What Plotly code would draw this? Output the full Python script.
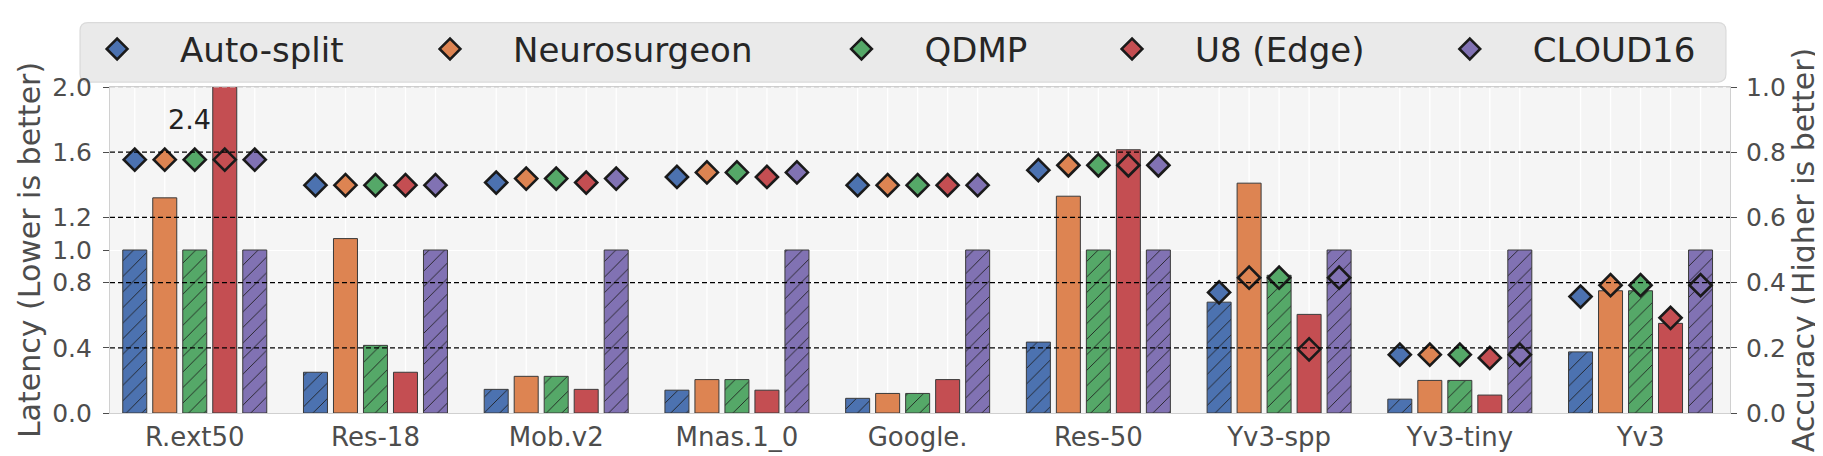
"""
Latency (bars) and accuracy (diamonds) per DNN model for five split methods.
"""

import plotly.graph_objects as go

models = ["R.ext50", "Res-18", "Mob.v2", "Mnas.1_0", "Google.",
          "Res-50", "Yv3-spp", "Yv3-tiny", "Yv3"]
methods = ["Auto-split", "Neurosurgeon", "QDMP", "U8 (Edge)", "CLOUD16"]

# latency, normalised (left axis)
auto_lat = [1.0, 0.25, 0.145, 0.14, 0.09, 0.435, 0.68, 0.085, 0.375]
neuro_lat = [1.32, 1.07, 0.225, 0.205, 0.12, 1.33, 1.41, 0.20, 0.75]
qdmp_lat = [1.0, 0.415, 0.225, 0.205, 0.12, 1.0, 0.845, 0.20, 0.75]
u8_lat = [2.4, 0.25, 0.145, 0.14, 0.205, 1.615, 0.605, 0.11, 0.55]
cloud_lat = [1.0, 1.0, 1.0, 1.0, 1.0, 1.0, 1.0, 1.0, 1.0]

# accuracy (right axis)
auto_acc = [0.777, 0.699, 0.707, 0.724, 0.699, 0.745, 0.370, 0.179, 0.357]
neuro_acc = [0.777, 0.699, 0.719, 0.738, 0.699, 0.760, 0.415, 0.179, 0.392]
qdmp_acc = [0.777, 0.699, 0.719, 0.738, 0.699, 0.760, 0.415, 0.179, 0.392]
u8_acc = [0.777, 0.699, 0.707, 0.724, 0.699, 0.760, 0.195, 0.169, 0.292]
cloud_acc = [0.777, 0.699, 0.719, 0.738, 0.699, 0.760, 0.415, 0.179, 0.392]

left_ticks = [0.0, 0.4, 0.8, 1.0, 1.2, 1.6, 2.0]
right_ticks = [0.0, 0.2, 0.4, 0.6, 0.8, 1.0]
dashed_levels = [0.2, 0.4, 0.6, 0.8]

latencies = [auto_lat, neuro_lat, qdmp_lat, u8_lat, cloud_lat]
accuracies = [auto_acc, neuro_acc, qdmp_acc, u8_acc, cloud_acc]
colors = ["#4C72B0", "#DD8452", "#55A868", "#C44E52", "#8172B3"]
hatched = [True, False, True, False, True]

FONT = "DejaVu Sans"
BARGAP = 0.17
X_RANGE = [-0.469, 8.495]

fig = go.Figure()

for name, lat, col, hatch in zip(methods, latencies, colors, hatched):
    pattern = dict(shape="/", fgcolor="#1e1e1e", bgcolor=col, size=11,
                   solidity=0.08, fillmode="replace") if hatch else dict(shape="")
    fig.add_trace(go.Bar(
        x=models, y=lat, name=name, showlegend=False,
        marker=dict(color=col, line=dict(color="#3a3a3a", width=1), pattern=pattern),
        yaxis="y",
    ))

for k, (name, acc, col) in enumerate(zip(methods, accuracies, colors)):
    fig.add_trace(go.Scatter(
        x=models, y=acc, name=name, mode="markers", yaxis="y2",
        marker=dict(symbol="diamond", size=17, color=col,
                    line=dict(color="#1a1a1a", width=2.6)),
        legend="legend" if k == 0 else f"legend{k + 1}",
    ))

# white vertical grid at every bar slot
slot = (1 - BARGAP) / len(methods)
shapes = []
for i in range(len(models)):
    for j in range(len(methods)):
        xv = i + (j - (len(methods) - 1) / 2) * slot
        shapes.append(dict(type="line", xref="x", yref="paper", x0=xv, x1=xv,
                           y0=0, y1=1, layer="below",
                           line=dict(color="white", width=1.3)))

# black dashed accuracy grid, drawn over the bars
for lv in dashed_levels:
    shapes.append(dict(type="line", xref="paper", yref="y2", x0=0, x1=1,
                       y0=lv, y1=lv, layer="above",
                       line=dict(color="black", width=1.3, dash="5px,3px")))

# light dashed top edge
shapes.append(dict(type="line", xref="paper", yref="paper", x0=0, x1=1, y0=1, y1=1,
                   layer="above", line=dict(color="#C8C8C8", width=1.2, dash="5px,3px")))

# legend box with rounded corners
bx0, bx1, by0, by1 = -0.0185, 0.9975, 1.0152, 1.1976
rx, ry = 8 / 1620, 8 / 329
box_path = (f"M {bx0 + rx},{by0} L {bx1 - rx},{by0} Q {bx1},{by0} {bx1},{by0 + ry} "
            f"L {bx1},{by1 - ry} Q {bx1},{by1} {bx1 - rx},{by1} "
            f"L {bx0 + rx},{by1} Q {bx0},{by1} {bx0},{by1 - ry} "
            f"L {bx0},{by0 + ry} Q {bx0},{by0} {bx0 + rx},{by0} Z")
shapes.append(dict(type="path", xref="paper", yref="paper", path=box_path, layer="below",
                   fillcolor="#EAEAEA", line=dict(color="#DADADA", width=1.2)))

# one legend per entry so the columns sit where the reference has them
legend_x = [-0.0345, 0.1710, 0.4250, 0.5920, 0.8005]
legends = {}
for k, lx in enumerate(legend_x):
    key = "legend" if k == 0 else f"legend{k + 1}"
    legends[key] = dict(x=lx, y=1.1155, xanchor="left", yanchor="middle",
                        orientation="h", bgcolor="rgba(0,0,0,0)",
                        itemwidth=116,
                        font=dict(family=FONT, size=34, color="#262626"))

tick_font = dict(family=FONT, size=25, color="#4d4d4d")
title_font = dict(family=FONT, size=30, color="#4d4d4d")

fig.update_layout(
    width=1823, height=456,
    margin=dict(l=102, r=101, t=76, b=51),
    paper_bgcolor="white", plot_bgcolor="#F5F5F5",
    barmode="group", bargap=BARGAP, bargroupgap=0.2,
    scattermode="group", scattergap=BARGAP,
    font=dict(family=FONT),
    shapes=shapes,
    annotations=[dict(x=models[0], y=1.8, xref="x", yref="y", text="2.4", xshift=-5,
                      showarrow=False, font=dict(family=FONT, size=27, color="#222222"))],
    xaxis=dict(range=X_RANGE, showgrid=False, tickfont=dict(family=FONT, size=26, color="#4d4d4d"),
               showline=True, linecolor="#D0D0D0", linewidth=1.2, mirror=True,
               ticks="", ticklabelstandoff=1),
    yaxis=dict(range=[0, 2.0], tickvals=left_ticks, ticktext=[f"{v:.1f}" for v in left_ticks],
               showgrid=True, gridcolor="white", gridwidth=1.3, zeroline=False,
               tickfont=tick_font, ticks="outside", ticklen=6, tickcolor="#4d4d4d",
               tickwidth=1.3, ticklabelstandoff=6,
               showline=True, linecolor="#D0D0D0", linewidth=1.2,
               title=dict(text="Latency (Lower is better)", font=title_font, standoff=2)),
    yaxis2=dict(range=[0, 1.0], tickvals=right_ticks, ticktext=[f"{v:.1f}" for v in right_ticks],
                overlaying="y", side="right", showgrid=False, zeroline=False,
                tickfont=tick_font, ticks="outside", ticklen=6, tickcolor="#4d4d4d",
                tickwidth=1.3, ticklabelstandoff=4,
                showline=True, linecolor="#D0D0D0", linewidth=1.2,
                title=dict(text="Accuracy (Higher is better)", font=title_font, standoff=2)),
    **legends,
)

fig.write_html("out.html")
